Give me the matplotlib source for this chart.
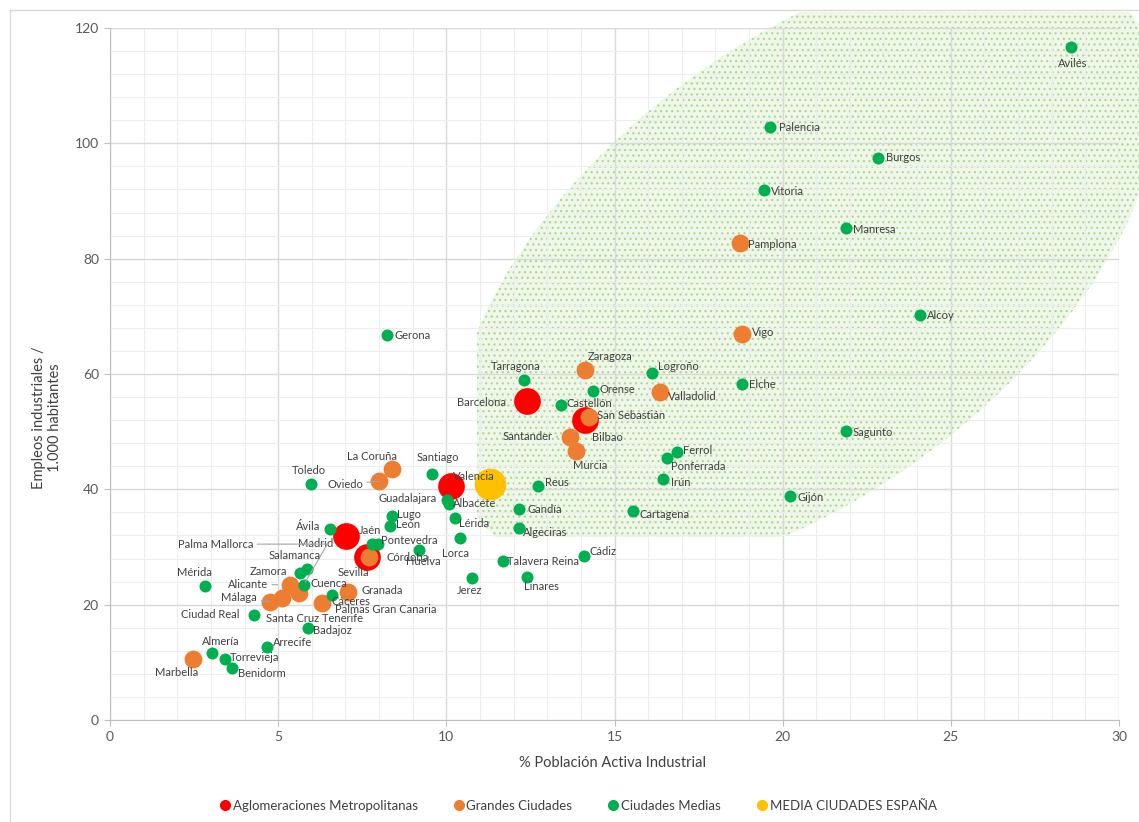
import matplotlib
matplotlib.use("Agg")
import matplotlib.pyplot as plt
from matplotlib.patches import Ellipse
from matplotlib.lines import Line2D
from matplotlib.transforms import IdentityTransform, Bbox
from matplotlib.ticker import MultipleLocator

plt.rcParams['font.family'] = ['Lato', 'DejaVu Sans']
plt.rcParams['hatch.linewidth'] = 0.8

# ---- data ----
metro_names = ['Barcelona', 'Bilbao', 'Valencia', 'Madrid', 'Sevilla']
metro_x = [12.40, 14.12, 10.14, 7.02, 7.64]
metro_y = [55.3, 52.0, 40.6, 31.9, 28.3]

grandes_names = ['Pamplona', 'Vigo', 'Zaragoza', 'Valladolid', 'San Sebastián', 'Santander',
                 'Murcia', 'La Coruña', 'Oviedo', 'Córdoba', 'Granada', 'Palmas Gran Canaria',
                 'Santa Cruz Tenerife', 'Málaga', 'Alicante', 'Palma Mallorca', 'Marbella']
grandes_x = [18.73, 18.79, 14.12, 16.35, 14.24, 13.68, 13.86, 8.39, 8.00, 7.70, 7.08, 6.30,
             5.11, 4.76, 5.35, 5.62, 2.47]
grandes_y = [82.7, 66.9, 60.7, 56.9, 52.5, 49.1, 46.6, 43.5, 41.4, 28.3, 22.2, 20.3,
             21.2, 20.5, 23.4, 22.0, 10.6]

medias_names = ['Avilés', 'Palencia', 'Burgos', 'Vitoria', 'Manresa', 'Alcoy', 'Gerona', 'Logroño',
                'Tarragona', 'Elche', 'Orense', 'Castellón', 'Sagunto', 'Ferrol', 'Ponferrada', 'Irún',
                'Santiago', 'Toledo', 'Reus', 'Gijón', 'Guadalajara', 'Albacete', 'Lérida', 'Gandía',
                'Lugo', 'León', 'Cartagena', 'Ávila', 'Algeciras', 'Lorca', 'Jaén', 'Pontevedra',
                'Huelva', 'Cádiz', 'Talavera Reina', 'Linares', 'Jerez', 'Salamanca', 'Zamora',
                'Cuenca', 'Cáceres', 'Mérida', 'Ciudad Real', 'Badajoz', 'Arrecife', 'Almería',
                'Torrevieja', 'Benidorm']
medias_x = [28.58, 19.63, 22.84, 19.45, 21.89, 24.09, 8.24, 16.12,
            12.31, 18.79, 14.36, 13.41, 21.89, 16.86, 16.56, 16.44,
            9.57, 5.98, 12.73, 20.22, 10.02, 10.08, 10.26, 12.16,
            8.39, 8.33, 15.55, 6.54, 12.16, 10.41, 7.79, 7.97,
            9.19, 14.09, 11.69, 12.40, 10.76, 5.86, 5.65,
            5.77, 6.60, 2.82, 4.28, 5.89, 4.67, 3.03,
            3.42, 3.63]
medias_y = [116.7, 102.8, 97.5, 91.9, 85.3, 70.2, 66.8, 60.2,
            59.0, 58.3, 57.0, 54.6, 50.1, 46.5, 45.4, 41.8,
            42.7, 40.9, 40.6, 38.8, 38.1, 37.5, 35.0, 36.6,
            35.4, 33.6, 36.2, 33.1, 33.3, 31.6, 30.5, 30.5,
            29.5, 28.4, 27.6, 24.8, 24.6, 26.2, 25.5,
            23.4, 21.7, 23.2, 18.2, 16.0, 12.7, 11.6,
            10.6, 9.0]

media_x = [11.30]
media_y = [40.9]

# label placement: (dx px, dy px downwards, ha)
lbl = {
    'Avilés': (1, 16, 'center'), 'Palencia': (9, 0, 'left'), 'Burgos': (8, 0, 'left'),
    'Vitoria': (7, 1, 'left'), 'Manresa': (7, 1, 'left'), 'Alcoy': (7, 0, 'left'),
    'Gerona': (7, 1, 'left'), 'Logroño': (6, -6, 'left'), 'Tarragona': (-8, -13, 'center'),
    'Elche': (7, 1, 'left'), 'Orense': (7, -2, 'left'), 'Castellón': (5, -2, 'left'),
    'Sagunto': (6, 1, 'left'), 'Ferrol': (6, -1, 'left'), 'Ponferrada': (4, 8, 'left'),
    'Irún': (8, 4, 'left'), 'Santiago': (6, -16, 'center'), 'Toledo': (-2, -14, 'center'),
    'Reus': (7, -3, 'left'), 'Gijón': (7, 1, 'left'), 'Guadalajara': (-10, -2, 'right'),
    'Albacete': (4, 0, 'left'), 'Lérida': (4, 5, 'left'), 'Gandía': (9, 1, 'left'),
    'Lugo': (5, -1, 'left'), 'León': (6, -2, 'left'), 'Cartagena': (7, 3, 'left'),
    'Ávila': (-10, -3, 'right'), 'Algeciras': (4, 5, 'left'), 'Lorca': (-5, 16, 'center'),
    'Jaén': (-2, -14, 'center'), 'Pontevedra': (3, -4, 'left'), 'Huelva': (4, 12, 'center'),
    'Cádiz': (6, -5, 'left'), 'Talavera Reina': (4, 1, 'left'), 'Linares': (-3, 10, 'left'),
    'Jerez': (-2, 12, 'center'), 'Salamanca': (-12, -13, 'center'), 'Zamora': (-13, -1, 'right'),
    'Cuenca': (6, -2, 'left'), 'Cáceres': (0, 7, 'left'), 'Mérida': (-10, -14, 'center'),
    'Ciudad Real': (-14, -1, 'right'), 'Badajoz': (5, 3, 'left'), 'Arrecife': (6, -4, 'left'),
    'Almería': (9, -12, 'center'), 'Torrevieja': (5, -1, 'left'), 'Benidorm': (6, 5, 'left'),
    'Pamplona': (8, 1, 'left'), 'Vigo': (10, -2, 'left'), 'Zaragoza': (25, -13, 'center'),
    'Valladolid': (8, 5, 'left'), 'San Sebastián': (8, -2, 'left'), 'Santander': (-18, 0, 'right'),
    'Murcia': (14, 14, 'center'), 'La Coruña': (-20, -13, 'center'), 'Oviedo': (-16, 3, 'right'),
    'Córdoba': (18, 1, 'left'), 'Granada': (13, -1, 'left'), 'Palmas Gran Canaria': (13, 7, 'left'),
    'Santa Cruz Tenerife': (-16, 21, 'left'), 'Málaga': (-13, -4, 'right'),
    'Alicante': (-22, -1, 'right'), 'Palma Mallorca': (-46, -49, 'right'), 'Marbella': (-16, 14, 'center'),
    'Barcelona': (-21, 1, 'right'), 'Bilbao': (7, 17, 'left'), 'Valencia': (2, -9, 'left'),
    'Madrid': (-13, 7, 'right'), 'Sevilla': (-14, 16, 'center'),
}
leaders = ['Santander', 'Oviedo', 'Málaga', 'Alicante', 'Palma Mallorca']

RED, ORANGE, GREEN, YELLOW = '#ff0000', '#ed7d31', '#00b050', '#ffc000'

W, H = 1139, 822
fig = plt.figure(figsize=(W / 100, H / 100), dpi=100)
ax = fig.add_axes([110 / W, 102 / H, 1009 / W, 692 / H])
ax.set_facecolor('none')
ax.set_xlim(0, 30)
ax.set_ylim(0, 120)
ax.xaxis.set_major_locator(MultipleLocator(5))
ax.xaxis.set_minor_locator(MultipleLocator(1))
ax.yaxis.set_major_locator(MultipleLocator(20))
ax.yaxis.set_minor_locator(MultipleLocator(4))
ax.grid(which='major', color='#d9d9d9', lw=1.0, zorder=0)
ax.grid(which='minor', color='#ededed', lw=0.8, zorder=0)
ax.set_axisbelow(True)
for s in ['top', 'right']:
    ax.spines[s].set_visible(False)
for s in ['left', 'bottom']:
    ax.spines[s].set_color('#bfbfbf')
ax.tick_params(which='major', length=4, color='#bfbfbf', labelsize=10, labelcolor='#595959', pad=4)
ax.tick_params(which='minor', length=0)

# shaded zone: tilted ellipse in pixel space, cut by a box like in the original
fig.canvas.draw()
cx, cy = ax.transData.transform((20.7, 78.4))
zone = Ellipse((cx, cy), 825, 442, angle=38, transform=IdentityTransform(),
               facecolor='#eef7e8', edgecolor='#acd592', lw=0, hatch='...', zorder=-1)
zone.set_clip_box(Bbox([[477, H - 537], [W, H - 12]]))
zone.set_clip_on(True)
fig.add_artist(zone)

ax.scatter(metro_x, metro_y, s=370, color=RED, zorder=3, linewidths=0)
ax.scatter(grandes_x, grandes_y, s=165, color=ORANGE, zorder=4, linewidths=0)
ax.scatter(medias_x, medias_y, s=75, color=GREEN, zorder=5, linewidths=0)
ax.scatter(media_x, media_y, s=520, color=YELLOW, zorder=6, linewidths=0)

for names, xs, ys, r in [(metro_names, metro_x, metro_y, 13), (grandes_names, grandes_x, grandes_y, 9),
                         (medias_names, medias_x, medias_y, 6)]:
    for n, x, y in zip(names, xs, ys):
        dx, dy, ha = lbl[n]
        ap = None
        if n in leaders:
            cs = 'angle,angleA=0,angleB=60,rad=0' if n == 'Palma Mallorca' else 'arc3'
            ap = dict(arrowstyle='-', color='#a6a6a6', lw=0.8, shrinkA=1, shrinkB=r,
                      connectionstyle=cs)
        ax.annotate(n, (x, y), xytext=(dx, -dy), textcoords='offset pixels', ha=ha, va='center',
                    fontsize=8, color='#404040', zorder=7, arrowprops=ap)

fig.text(0.538, 0.0718, '% Población Activa Industrial', ha='center', va='center',
         fontsize=10.5, color='#404040')
fig.text(0.041, 0.4915, 'Empleos industriales /\n1.000 habitantes', ha='center', va='center',
         rotation=90, fontsize=10.5, color='#404040', multialignment='center')

handles = [Line2D([], [], ls='none', marker='o', ms=7, color=c) for c in [RED, ORANGE, GREEN, YELLOW]]
fig.legend(handles, ['Aglomeraciones Metropolitanas', 'Grandes Ciudades', 'Ciudades Medias',
                     'MEDIA CIUDADES ESPAÑA'],
           loc='center', bbox_to_anchor=(0.507, 0.0195), ncol=4, frameon=False, fontsize=9.5,
           handletextpad=0.1, columnspacing=2.6, handlelength=1.0, labelcolor='#404040')

# chart area border
fig.add_artist(Line2D([10 / W, 10 / W], [0, 1 - 10 / H], color='#d9d9d9', lw=1))
fig.add_artist(Line2D([10 / W, 1], [1 - 10 / H, 1 - 10 / H], color='#d9d9d9', lw=1))

fig.savefig('out.png', dpi=100)
